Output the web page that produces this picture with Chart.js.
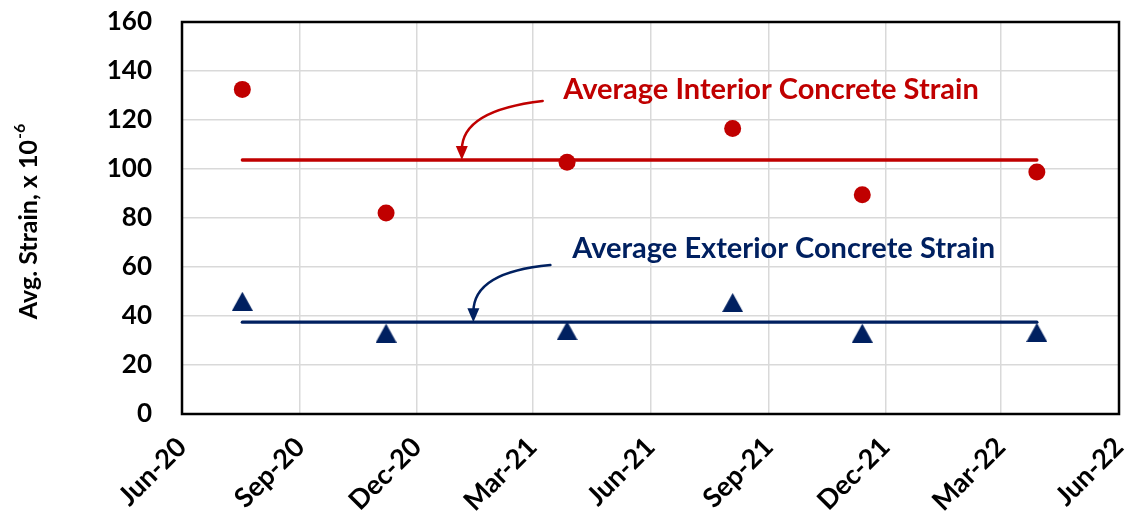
<!DOCTYPE html>
<html>
<head>
<meta charset="utf-8">
<script src="https://cdn.jsdelivr.net/npm/chart.js@4.4.1/dist/chart.umd.min.js"></script>
<style>
    html, body { margin: 0; padding: 0; background: #fff; }
    #wrap { width: 1131px; height: 529px; }
</style>
</head>
<body>
<div id="wrap"><canvas id="graficoStrain"></canvas></div>
<script>
// Leituras (datas das medições e deformações médias, x 10^-6)
const datas = ['2020-07-18', '2020-11-07', '2021-03-28', '2021-08-04', '2021-11-13', '2022-03-29'];
const interior = [132.5, 82, 102.8, 116.5, 89.5, 98.8];
const exterior = [46, 33, 34, 45.5, 33, 33.3];

// Eixo x: datas das marcas e seus rótulos
const tickDatas = ['2020-06-01', '2020-09-01', '2020-12-01', '2021-03-01', '2021-06-01',
                   '2021-09-01', '2021-12-01', '2022-03-01', '2022-06-01'];
const tickLabels = ['Jun-20', 'Sep-20', 'Dec-20', 'Mar-21', 'Jun-21', 'Sep-21', 'Dec-21', 'Mar-22', 'Jun-22'];

const VERMELHO = '#C00000';
const AZUL = '#002060';
const FONTE = 'Lato, "Open Sans", sans-serif';

const inicio = Date.UTC(2020, 5, 1);
function dias(s) {
    const [a, m, d] = s.split('-').map(Number);
    return (Date.UTC(a, m - 1, d) - inicio) / 86400000;
}
const media = arr => arr.reduce((s, v) => s + v, 0) / arr.length;

const mediaInterior = media(interior);
const mediaExterior = media(exterior);
const xs = datas.map(dias);

// Notas com setas curvas
const notas = [
    { texto: 'Average Interior Concrete Strain', cor: VERMELHO, x: '2021-03-25', y: 132.5,
      de: ['2021-03-09', 127.8], ctrl: ['2021-01-05', 124], ate: ['2021-01-05', mediaInterior] },
    { texto: 'Average Exterior Concrete Strain', cor: AZUL, x: '2021-04-01', y: 67.3,
      de: ['2021-03-15', 60.8], ctrl: ['2021-01-14', 58], ate: ['2021-01-14', mediaExterior] }
];

// Marcador triangular centrado pela caixa (como no Excel)
const tri = document.createElement('canvas');
tri.width = 21; tri.height = 19;
const tctx = tri.getContext('2d');
tctx.fillStyle = AZUL;
tctx.beginPath();
tctx.moveTo(10.5, 0);
tctx.lineTo(21, 19);
tctx.lineTo(0, 19);
tctx.closePath();
tctx.fill();

const pluginExtras = {
    id: 'extras',
    afterDraw(chart) {
        const { ctx, chartArea, scales } = chart;
        const sx = scales.x, sy = scales.y;

        // borda da área do gráfico
        ctx.save();
        ctx.strokeStyle = '#000';
        ctx.lineWidth = 2.5;
        ctx.strokeRect(chartArea.left, chartArea.top, chartArea.right - chartArea.left, chartArea.bottom - chartArea.top);
        ctx.restore();

        // notas e setas
        notas.forEach(n => {
            ctx.save();
            ctx.fillStyle = n.cor;
            ctx.font = 'bold 29px ' + FONTE;
            ctx.textBaseline = 'middle';
            ctx.textAlign = 'left';
            ctx.fillText(n.texto, sx.getPixelForValue(dias(n.x)), sy.getPixelForValue(n.y));

            const x0 = sx.getPixelForValue(dias(n.de[0])), y0 = sy.getPixelForValue(n.de[1]);
            const cx = sx.getPixelForValue(dias(n.ctrl[0])), cy = sy.getPixelForValue(n.ctrl[1]);
            const x1 = sx.getPixelForValue(dias(n.ate[0])), y1 = sy.getPixelForValue(n.ate[1]);
            ctx.strokeStyle = n.cor;
            ctx.lineWidth = 2.5;
            ctx.lineCap = 'round';
            ctx.beginPath();
            ctx.moveTo(x0, y0);
            ctx.quadraticCurveTo(cx, cy, x1, y1 - 10);
            ctx.stroke();
            // ponta da seta
            ctx.beginPath();
            ctx.moveTo(x1, y1);
            ctx.lineTo(x1 - 6, y1 - 14);
            ctx.lineTo(x1 + 6, y1 - 14);
            ctx.closePath();
            ctx.fill();
            ctx.restore();
        });

        // título do eixo y com expoente
        ctx.save();
        ctx.translate(29, (chartArea.top + chartArea.bottom) / 2 + 4);
        ctx.rotate(-Math.PI / 2);
        ctx.fillStyle = '#000';
        ctx.textBaseline = 'middle';
        ctx.textAlign = 'left';
        const base = 'Avg. Strain, x 10';
        const exp = '-6';
        ctx.font = 'bold 25px ' + FONTE;
        const wBase = ctx.measureText(base).width;
        ctx.font = 'bold 16px ' + FONTE;
        const wExp = ctx.measureText(exp).width;
        const x = -(wBase + wExp) / 2;
        ctx.font = 'bold 25px ' + FONTE;
        ctx.fillText(base, x, 0);
        ctx.font = 'bold 16px ' + FONTE;
        ctx.fillText(exp, x + wBase + 1, -9);
        ctx.restore();
    }
};

const ctx = document.getElementById('graficoStrain').getContext('2d');
const chart = new Chart(ctx, {
    type: 'scatter',
    data: {
        datasets: [
            {
                label: 'Interior',
                data: xs.map((x, i) => ({ x, y: interior[i] })),
                backgroundColor: VERMELHO,
                borderColor: VERMELHO,
                pointStyle: 'circle',
                pointRadius: 8.5,
                borderWidth: 0
            },
            {
                label: 'Exterior',
                data: xs.map((x, i) => ({ x, y: exterior[i] })),
                pointStyle: tri,
                pointRadius: 10
            },
            {
                label: 'Média interior',
                data: [{ x: xs[0], y: mediaInterior }, { x: xs[xs.length - 1], y: mediaInterior }],
                showLine: true,
                borderColor: VERMELHO,
                borderWidth: 3.3,
                borderCapStyle: 'round',
                pointRadius: 0
            },
            {
                label: 'Média exterior',
                data: [{ x: xs[0], y: mediaExterior }, { x: xs[xs.length - 1], y: mediaExterior }],
                showLine: true,
                borderColor: AZUL,
                borderWidth: 3.3,
                borderCapStyle: 'round',
                pointRadius: 0
            }
        ]
    },
    options: {
        responsive: true,
        maintainAspectRatio: false,
        animation: false,
        layout: { padding: { top: 22, right: 12, left: 0, bottom: 0 } },
        plugins: {
            legend: { display: false },
            tooltip: { enabled: false }
        },
        scales: {
            x: {
                type: 'linear',
                min: dias(tickDatas[0]),
                max: dias(tickDatas[tickDatas.length - 1]),
                afterBuildTicks: scale => {
                    scale.ticks = tickDatas.map(d => ({ value: dias(d) }));
                },
                afterFit: scale => {
                    scale.height = 115;
                    scale.paddingLeft = 0;
                    scale.paddingRight = 0;
                },
                grid: { color: '#d9d9d9', lineWidth: 1.5, drawTicks: false },
                border: { display: false },
                ticks: {
                    autoSkip: false,
                    maxRotation: 45,
                    minRotation: 45,
                    padding: 17,
                    color: '#000',
                    font: { family: FONTE, size: 27, weight: 'bold' },
                    callback: (v, i) => tickLabels[i]
                }
            },
            y: {
                min: 0,
                max: 160,
                afterFit: scale => {
                    scale.width = 182;
                    scale.paddingTop = 0;
                    scale.paddingBottom = 0;
                },
                grid: { color: '#d9d9d9', lineWidth: 1.5, drawTicks: false },
                border: { display: false },
                ticks: {
                    stepSize: 20,
                    padding: 30,
                    color: '#000',
                    font: { family: FONTE, size: 26, weight: 'bold' }
                }
            }
        }
    },
    plugins: [pluginExtras]
});
</script>
</body>
</html>
